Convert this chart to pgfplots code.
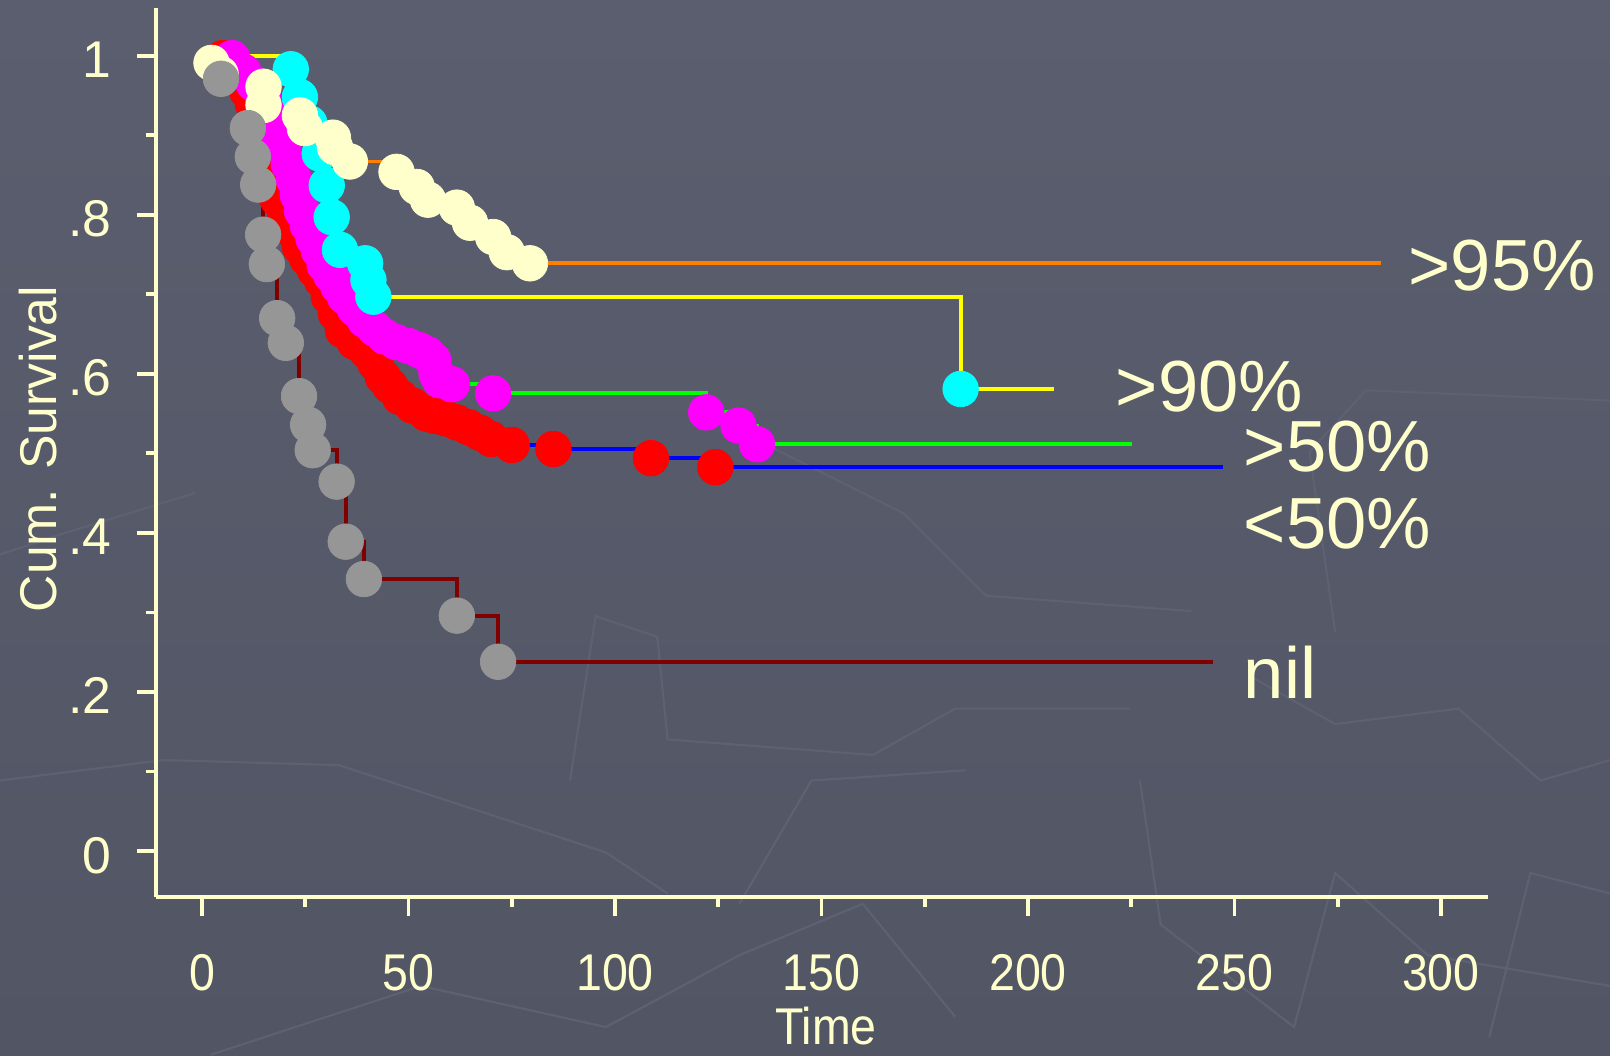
\documentclass[border=0pt]{standalone}
\usepackage{pgfplots}
\pgfplotsset{compat=1.18}
\usepackage{pgfplotstable}
\usepackage{fontspec}
\setmainfont{Liberation Sans}
\newfontfamily\narrow[FakeStretch=0.9]{Liberation Sans}
\definecolor{bgtop}{RGB}{91,94,110}
\definecolor{bgbot}{RGB}{82,85,100}
\definecolor{cream}{RGB}{255,255,204}
\definecolor{texture}{RGB}{94,97,113}
\definecolor{korange}{RGB}{255,128,0}
\definecolor{kgray}{RGB}{150,150,150}
\definecolor{kmaroon}{RGB}{128,0,0}
\definecolor{kred}{RGB}{255,0,0}
\definecolor{kblue}{RGB}{0,0,255}
\definecolor{kgreen}{RGB}{0,255,0}
\definecolor{kmagenta}{RGB}{255,0,255}
\definecolor{kcyan}{RGB}{0,255,255}
\definecolor{kyellow}{RGB}{255,255,0}
\pgfplotstableread{
x y
5.0 0.997
7.5 0.985
9.5 0.970
11.0 0.955
12.3 0.940
13.3 0.920
14.3 0.900
15.3 0.880
16.3 0.860
17.3 0.840
18.3 0.820
20.1 0.802
21.8 0.781
23.7 0.760
25.5 0.745
27.3 0.731
29.0 0.718
30.7 0.697
32.4 0.676
34.1 0.655
37.0 0.640
40.0 0.628
42.0 0.613
43.8 0.596
45.5 0.585
47.9 0.571
51.0 0.560
54.4 0.550
56.5 0.547
59.0 0.544
61.7 0.539
64.5 0.533
67.3 0.526
70.0 0.518
75.0 0.5105
85.1 0.5055
108.7 0.494
124.3 0.4826
}\redmarks
\pgfplotstableread{
x y
7.3 0.997
10.0 0.980
12.5 0.965
14.8 0.947
16.5 0.925
18.0 0.905
19.5 0.885
21.0 0.864
22.2 0.845
23.2 0.825
24.2 0.805
25.6 0.787
27.0 0.770
28.3 0.755
29.7 0.737
31.3 0.724
33.0 0.710
34.6 0.697
37.0 0.682
39.4 0.668
41.8 0.657
44.2 0.647
47.0 0.640
50.0 0.635
52.5 0.630
54.5 0.625
56.0 0.617
56.8 0.600
57.6 0.592
60.5 0.587
70.5 0.5755
122.1 0.5516
129.9 0.535
134.4 0.5115
}\magmarks
\pgfplotstableread{
x y
21.5 0.983
23.7 0.948
26.0 0.915
28.5 0.877
30.2 0.837
31.4 0.797
33.4 0.756
39.5 0.739
40.3 0.718
41.5 0.697
183.7 0.581
}\cyanmarks
\pgfplotstableread{
x y
2.3 0.991
4.5 0.977
14.9 0.961
14.9 0.938
23.7 0.925
24.9 0.909
31.7 0.897
32.2 0.885
35.8 0.867
47.1 0.854
52.0 0.835
54.7 0.819
61.7 0.809
64.9 0.790
70.5 0.772
73.8 0.753
79.4 0.739
}\creammarks
\pgfplotstableread{
x y
4.6 0.971
11.1 0.909
12.3 0.873
13.6 0.838
14.8 0.775
15.7 0.738
18.2 0.670
20.3 0.639
23.5 0.572
25.7 0.536
26.8 0.504
32.6 0.4645
34.8 0.389
39.2 0.342
61.7 0.296
71.7 0.238
}\graymarks
\begin{document}
\begin{tikzpicture}
\shade[top color=bgtop, bottom color=bgbot] (0,0) rectangle (161mm,105.5mm);
\useasboundingbox (0,0) rectangle (161mm,105.5mm);
\begin{scope}[shift={(0mm,105.5mm)}, x=0.1027mm, y=-0.1027mm, draw=texture, line width=0.6pt]
\draw (0,760) -- (160,740) -- (330,745) -- (590,830) -- (650,870);
\draw (205,1027) -- (410,960) -- (590,1000) -- (720,930) -- (840,880) -- (930,990);
\draw (555,760) -- (580,600) -- (640,620) -- (650,720) -- (850,735) -- (930,690) -- (1100,690);
\draw (1160,595) -- (960,580) -- (880,500) -- (700,410);
\draw (1300,615) -- (1275,440) -- (1330,380) -- (1568,390);
\draw (1220,660) -- (1300,705) -- (1420,690) -- (1500,760) -- (1568,740);
\draw (1110,760) -- (1130,900) -- (1260,1000) -- (1300,850) -- (1390,930) -- (1568,960);
\draw (1450,1010) -- (1490,850) -- (1568,870);
\draw (0,540) -- (60,520) -- (190,480);
\draw (720,880) -- (790,760) -- (940,750);
\end{scope}
\begin{axis}[
  at={(15.6mm,15.8mm)}, anchor=south west,
  scale only axis, width=133.2mm, height=88.9mm,
  xmin=-11.14, xmax=311.4, ymin=-0.0578, ymax=1.060,
  axis x line*=bottom, axis y line*=left,
  axis line style={-, draw=cream, line width=1.1pt},
  tick align=outside, major tick length=1.9mm, minor tick length=1.0mm,
  tick style={draw=cream, line width=1.1pt},
  xtick={0,50,100,150,200,250,300}, minor xtick={25,75,125,175,225,275},
  xticklabels={0,50,100,150,200,250,300},
  ytick={0,0.2,0.4,0.6,0.8,1}, yticklabels={0,.2,.4,.6,.8,1},
  minor ytick={0.1,0.3,0.5,0.7,0.9},
  xticklabel style={text=cream, inner sep=0pt, anchor=base, yshift=-7.4mm, font=\narrow\fontsize{14.7}{16}\selectfont},
  yticklabel style={text=cream, inner sep=0pt, anchor=base east, xshift=-2.5mm, yshift=-2.2mm, font=\fontsize{14.7}{16}\selectfont},
  xlabel={Time},
  xlabel style={at={(axis description cs:0.503,-0.166)}, anchor=base, text=cream, inner sep=0pt, font=\narrow\fontsize{14.7}{16}\selectfont},
  ylabel={Cum. Survival},
  ylabel style={at={(axis description cs:-0.0886,0.504)}, anchor=center, text=cream, inner sep=0pt, font=\fontsize{14.7}{16}\selectfont},
  clip=false,
  marks/.style={only marks, mark=*, mark size=1.78mm, mark options={fill=#1, draw=#1, line width=0.2pt}},
]
% <50% : blue line, red markers
\addplot[kblue, line width=1.1pt, const plot] coordinates {
(0,1) (5.0,0.997) (7.5,0.985) (9.5,0.970) (11.0,0.955) (12.3,0.940) (13.3,0.920)
(14.3,0.900) (15.3,0.880) (16.3,0.860) (17.3,0.840) (18.3,0.820) (20.1,0.802)
(21.8,0.781) (23.7,0.760) (25.5,0.745) (27.3,0.731) (29.0,0.718) (30.7,0.697)
(32.4,0.676) (34.1,0.655) (37.0,0.640) (40.0,0.628) (42.0,0.613) (43.8,0.596)
(45.5,0.585) (47.9,0.571) (51.0,0.560) (54.4,0.550) (56.5,0.547) (59.0,0.544)
(61.7,0.539) (64.5,0.533) (67.3,0.526) (70.0,0.518) (75.0,0.5105) (85.1,0.5055)
(108.7,0.494) (124.3,0.4826) (247.3,0.4826)};
\addplot[kred, marks=kred] table {\redmarks};
% >50% : green line, magenta markers
\addplot[kgreen, line width=1.1pt, const plot] coordinates {
(0,1) (7.3,0.997) (10.0,0.980) (12.5,0.965) (14.8,0.947) (16.5,0.925) (18.0,0.905)
(19.5,0.885) (21.0,0.864) (22.2,0.845) (23.2,0.825) (24.2,0.805) (25.6,0.787)
(27.0,0.770) (28.3,0.755) (29.7,0.737) (31.3,0.724) (33.0,0.710) (34.6,0.697)
(37.0,0.682) (39.4,0.668) (41.8,0.657) (44.2,0.647) (47.0,0.640) (50.0,0.635)
(52.5,0.630) (54.5,0.625) (56.0,0.617) (56.8,0.600) (57.6,0.592) (60.5,0.587)
(70.5,0.5755) (122.1,0.5516) (129.9,0.535) (134.4,0.5115) (225.1,0.5115)};
\addplot[kmagenta, marks=kmagenta] table {\magmarks};
% >90% : yellow line, cyan markers
\addplot[kyellow, line width=1.1pt, const plot] coordinates {
(0,1) (21.5,0.983) (23.7,0.948) (26.0,0.915) (28.5,0.877) (30.2,0.837) (31.4,0.797)
(33.4,0.756) (39.5,0.739) (40.3,0.718) (41.5,0.697) (183.7,0.581) (206.4,0.581)};
\addplot[kcyan, marks=kcyan] table {\cyanmarks};
% >95% : orange line, cream markers
\addplot[korange, line width=1.1pt, const plot] coordinates {
(0,1) (2.3,0.991) (4.5,0.977) (14.9,0.961) (14.9,0.938) (23.7,0.925) (24.9,0.909)
(31.7,0.897) (32.2,0.885) (35.8,0.867) (47.1,0.854) (52.0,0.835) (54.7,0.819)
(61.7,0.809) (64.9,0.790) (70.5,0.772) (73.8,0.753) (79.4,0.739) (285.6,0.739)};
\addplot[cream, marks=cream] table {\creammarks};
% nil : maroon line, gray markers
\addplot[kmaroon, line width=1.1pt, const plot] coordinates {
(0,1) (4.6,0.971) (11.1,0.909) (12.3,0.873) (13.6,0.838) (14.8,0.775) (15.7,0.738)
(18.2,0.670) (20.3,0.639) (23.5,0.572) (25.7,0.536) (26.8,0.504) (32.6,0.4645)
(34.8,0.389) (39.2,0.342) (61.7,0.296) (71.7,0.238) (244.8,0.238)};
\addplot[kgray, marks=kgray] table {\graymarks};
% group labels
\node[anchor=base west, inner sep=0pt, text=cream, font=\fontsize{20.6}{24}\selectfont] at (axis cs:292.0,0.7045) {>95\%};
\node[anchor=base west, inner sep=0pt, text=cream, font=\fontsize{20.6}{24}\selectfont] at (axis cs:221.1,0.5524) {>90\%};
\node[anchor=base west, inner sep=0pt, text=cream, font=\fontsize{20.6}{24}\selectfont] at (axis cs:252.1,0.477) {>50\%};
\node[anchor=base west, inner sep=0pt, text=cream, font=\fontsize{20.6}{24}\selectfont] at (axis cs:252.1,0.381) {<50\%};
\node[anchor=base west, inner sep=0pt, text=cream, font=\fontsize{20.6}{24}\selectfont] at (axis cs:252.1,0.1924) {nil};
\end{axis}
\end{tikzpicture}
\end{document}
